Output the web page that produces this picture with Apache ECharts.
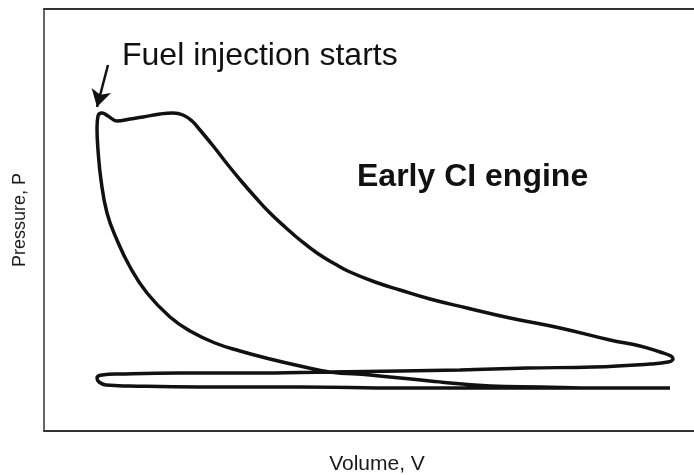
<!DOCTYPE html>
<html>
<head>
<meta charset="utf-8">
<script src="https://cdn.jsdelivr.net/npm/echarts@6/dist/echarts.min.js"></script>
<style>
html, body { margin: 0; padding: 0; background: #fff; }
#pvChart { width: 694px; height: 475px; }
</style>
</head>
<body>
<div id="pvChart"></div>
<script>
// P-V loop (arbitrary units), traced in cycle order
var volume = [626, 556, 496, 446, 386, 326, 286, 256, 226, 196, 171, 146, 126, 103, 86, 73, 63, 57, 54, 53, 54,
	58, 64, 73, 86, 99, 116, 129, 139, 148, 156, 170, 184, 198, 212, 226, 241, 256, 273, 291, 306,
	331, 356, 386, 423, 466, 516, 566, 596, 616, 627, 629, 624, 606, 549, 483, 416, 356, 286, 206, 136,
	76, 58, 53, 55, 62, 86, 156, 256, 356, 456, 556, 626]
var pressure = [43, 43, 44, 45, 50, 56, 59, 65, 72, 80, 88, 100, 114, 138, 164, 191, 218, 251, 281, 303, 315,
	318, 315, 310, 312, 314, 317, 318, 316, 310, 301, 284, 266, 249, 233, 218, 204, 191, 178, 167, 159,
	149, 141, 132, 123, 113, 103, 91, 85, 79, 75, 72, 69, 67, 64, 63, 61, 60, 59, 58, 58,
	57, 56, 53, 49, 46, 45, 44, 44, 43, 43, 43, 43]
var axisNames = ['Volume, V', 'Pressure, P']
var noteInjection = 'Fuel injection starts'
var noteEngine = 'Early CI engine'
var arrowFrom = [64, 366]
var arrowTo = [53, 324]

function renderPvEchart() {
	var myEchart = echarts.init(document.getElementById('pvChart'))
	var loop = []
	volume.forEach(function(v, i) {
		loop.push([v, pressure[i]])
	})
	var hidden = { show: false }
	var option = {
		animation: false,
		backgroundColor: '#ffffff',
		textStyle: { fontFamily: 'Liberation Sans, Arial, sans-serif' },
		grid: { left: 44, right: 0, top: 9, bottom: 44, containLabel: false, outerBoundsMode: 'none' },
		xAxis: [{
			type: 'value',
			min: 0,
			max: 650,
			name: axisNames[0],
			nameLocation: 'middle',
			nameGap: 23,
			nameTextStyle: { color: '#1a1a1a', fontSize: 21, padding: [0, 0, 0, 16] },
			axisLine: { show: true, lineStyle: { color: '#333', width: 2 } },
			axisTick: hidden,
			axisLabel: hidden,
			splitLine: hidden
		}, {
			type: 'value',
			position: 'top',
			min: 0,
			max: 650,
			axisLine: { show: true, lineStyle: { color: '#333', width: 2 } },
			axisTick: hidden,
			axisLabel: hidden,
			splitLine: hidden
		}],
		yAxis: {
			type: 'value',
			min: 0,
			max: 422,
			name: axisNames[1],
			nameLocation: 'middle',
			nameGap: 15,
			nameTextStyle: { color: '#1a1a1a', fontSize: 18 },
			axisLine: { show: true, lineStyle: { color: '#333', width: 1.5 } },
			axisTick: hidden,
			axisLabel: hidden,
			splitLine: hidden
		},
		graphic: [{
			type: 'text',
			left: 122,
			top: 40,
			style: {
				text: noteInjection,
				fill: '#111',
				font: '32px "Liberation Sans", Arial, sans-serif'
			}
		}, {
			type: 'text',
			left: 357,
			top: 161,
			style: {
				text: noteEngine,
				fill: '#111',
				font: 'bold 32px "Liberation Sans", Arial, sans-serif'
			}
		}],
		series: [{
			name: 'cycle',
			type: 'line',
			data: loop,
			smooth: 0.45,
			showSymbol: false,
			lineStyle: { color: '#111', width: 3.5 },
			markLine: {
				silent: true,
				symbol: ['none', 'arrow'],
				symbolSize: [15, 17],
				label: { show: false },
				lineStyle: { color: '#111', width: 2.5, type: 'solid' },
				data: [[{ coord: arrowFrom }, { coord: arrowTo }]]
			}
		}]
	}
	myEchart.setOption(option)
}
renderPvEchart()
</script>
</body>
</html>
